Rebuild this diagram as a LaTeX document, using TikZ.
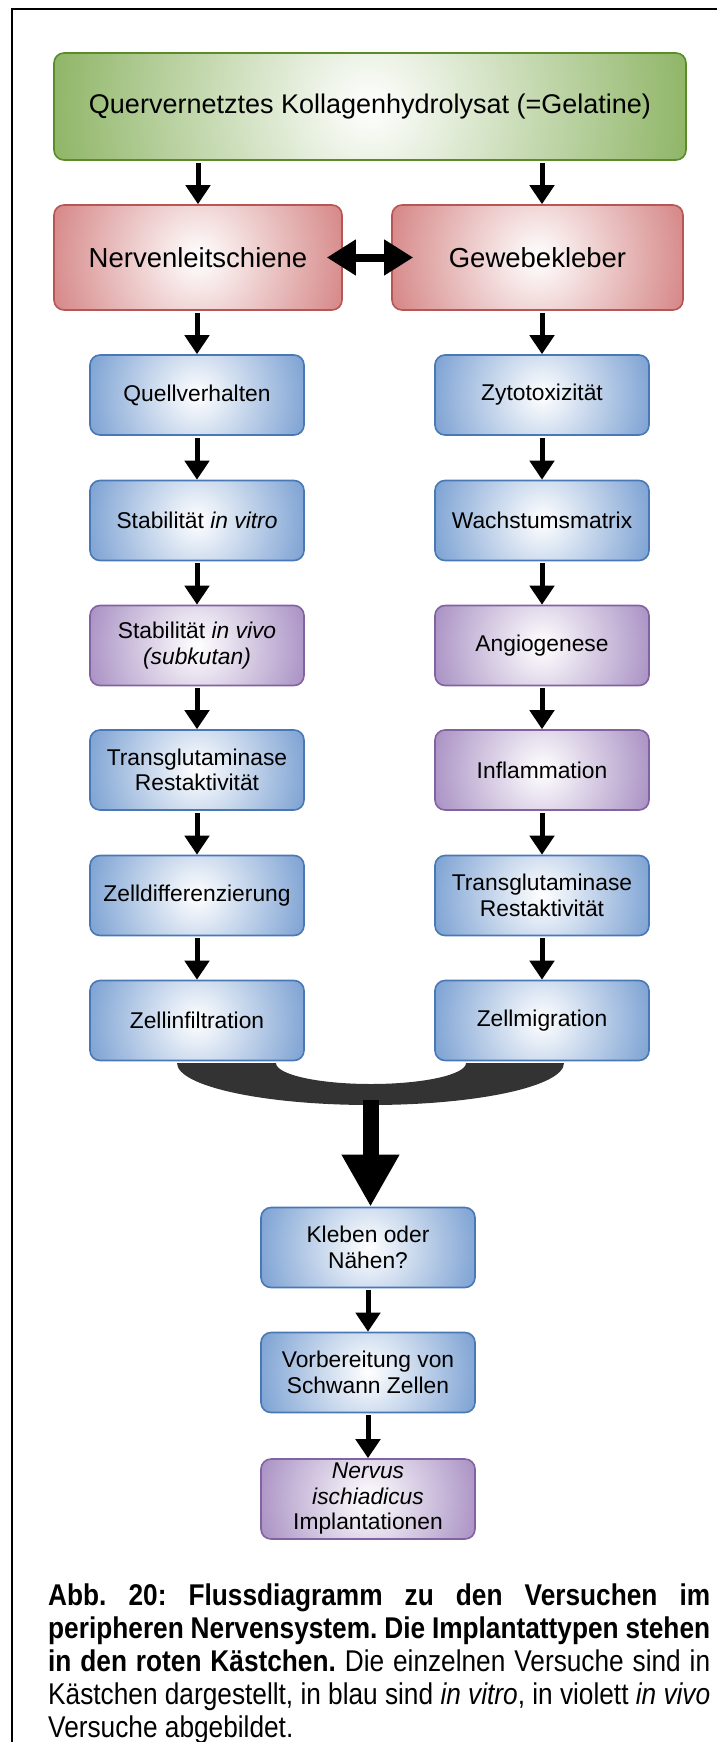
\documentclass[tikz,border=0pt]{standalone}
\usepackage{fontspec}
\setmainfont{Liberation Sans}
\newfontfamily\captionfont[FakeStretch=0.875]{Liberation Sans}
\usetikzlibrary{arrows.meta}

\definecolor{gelgreen}{RGB}{98,152,42}
\definecolor{implred}{RGB}{200,94,94}
\definecolor{vitroblue}{RGB}{80,130,196}
\definecolor{vivoviolet}{RGB}{140,108,176}
\definecolor{mergegray}{RGB}{51,51,51}

\tikzset{
  glow/.style 2 args={draw=#1!92!black, line width=1.6pt, rounded corners=10pt,
    path picture={\shade[inner color=white, outer color=#1]
      (path picture bounding box.center) circle (#2);}},
  vitrobox/.style={glow={vitroblue}{152pt}, minimum width=214pt, minimum height=80pt,
    inner sep=0pt, align=center, font=\fontsize{22.8}{25.5}\selectfont},
  vivobox/.style={vitrobox, glow={vivoviolet}{152pt}},
  implbox/.style={glow={implred}{205pt}, minimum height=105pt, inner sep=0pt,
    font=\fontsize{27.5}{30}\selectfont},
  gelbox/.style={glow={gelgreen}{450pt}, minimum width=632pt, minimum height=107pt,
    inner sep=0pt, font=\fontsize{27}{30}\selectfont},
  pfeil/.style={line width=5pt, -{Triangle[length=19pt,width=24pt]}, shorten <=2pt},
  tauschpfeil/.style={line width=8pt, {Triangle[length=29pt,width=34pt]}-{Triangle[length=29pt,width=34pt]}},
  sammelpfeil/.style={line width=16pt, -{Triangle[length=52pt,width=54pt]}},
  captionline/.style={anchor=base west, inner sep=0pt,
    font=\captionfont\fontsize{30}{33}\selectfont\frenchspacing}
}

\begin{document}
\begin{tikzpicture}[x=1pt,y=-1pt]
\useasboundingbox (0,0) rectangle (717,1742);
% Rahmen
\draw[line width=2.8pt] (717,9) -- (12,9) -- (12,1742);
% Ausgangsmaterial
\node[gelbox] (gelatine) at (370,106.5) {Quervernetztes Kollagenhydrolysat (=Gelatine)};
% Implantattypen
\node[implbox, minimum width=288pt] (leitschiene) at (198,257.5) {Nervenleitschiene};
\node[implbox, minimum width=291pt] (kleber) at (537.5,257.5) {Gewebekleber};
% Versuche Nervenleitschiene
\node[vitrobox] (quell) at (197,395) {Quellverhalten};
\node[vitrobox] (stabvitro) at (197,520.5) {Stabilität \textit{in vitro}};
\node[vivobox] (stabvivo) at (197,645.5) {Stabilität \textit{in vivo}\\\textit{(subkutan)}};
\node[vitrobox] (tgleit) at (197,770) {Transglutaminase\\Restaktivität};
\node[vitrobox] (differenz) at (197,895.5) {Zelldifferenzierung};
\node[vitrobox] (infiltration) at (197,1020.5) {Zellinfiltration};
% Versuche Gewebekleber
\node[vitrobox] (zyto) at (542,395) {Zytotoxizität};
\node[vitrobox] (matrix) at (542,520.5) {Wachstumsmatrix};
\node[vivobox] (angio) at (542,645.5) {Angiogenese};
\node[vivobox] (inflamm) at (542,770) {Inflammation};
\node[vitrobox] (tgkleber) at (542,895.5) {Transglutaminase\\Restaktivität};
\node[vitrobox] (migration) at (542,1020.5) {Zellmigration};
% gemeinsame Versuche
\node[vitrobox] (kleben) at (368,1247.5) {Kleben oder\\Nähen?};
\node[vitrobox] (schwann) at (368,1372.5) {Vorbereitung von\\Schwann Zellen};
\node[vivobox] (ischiadicus) at (368,1499) {\textit{Nervus}\\\textit{ischiadicus}\\Implantationen};
% Pfeile oben
\draw[pfeil] (gelatine.south -| leitschiene) -- (leitschiene.north);
\draw[pfeil] (gelatine.south -| zyto) -- (kleber.north -| zyto);
\draw[tauschpfeil] ([xshift=-16pt]leitschiene.east) -- ([xshift=22pt]kleber.west);
\draw[pfeil] (leitschiene.south -| quell) -- (quell.north);
\draw[pfeil] (kleber.south -| zyto) -- (zyto.north);
% Pfeile links
\draw[pfeil] (quell.south) -- (stabvitro.north);
\draw[pfeil] (stabvitro.south) -- (stabvivo.north);
\draw[pfeil] (stabvivo.south) -- (tgleit.north);
\draw[pfeil] (tgleit.south) -- (differenz.north);
\draw[pfeil] (differenz.south) -- (infiltration.north);
% Pfeile rechts
\draw[pfeil] (zyto.south) -- (matrix.north);
\draw[pfeil] (matrix.south) -- (angio.north);
\draw[pfeil] (angio.south) -- (inflamm.north);
\draw[pfeil] (inflamm.south) -- (tgkleber.north);
\draw[pfeil] (tgkleber.south) -- (migration.north);
% Zusammenfuehrung
\fill[mergegray] (177,1063) -- (276,1063)
  .. controls (276,1074.6) and (318.5,1084) .. (371,1084)
  .. controls (423.5,1084) and (466,1074.6) .. (466,1063)
  -- (564,1063)
  .. controls (564,1086.2) and (477.4,1105) .. (370.5,1105)
  .. controls (263.6,1105) and (177,1086.2) .. (177,1063) -- cycle;
\coordinate (trichter) at (370.5,1100);
\draw[sammelpfeil] (trichter) -- (trichter |- kleben.north);
\draw[pfeil] (kleben.south) -- (schwann.north);
\draw[pfeil] (schwann.south) -- (ischiadicus.north);
% Bildunterschrift
\node[captionline] (cap1) at (48,1605) {\makebox[662pt][s]{\textbf{Abb. 20: Flussdiagramm zu den Versuchen im}}};
\node[captionline] (cap2) at (48,1638) {\makebox[662pt][s]{\textbf{peripheren Nervensystem. Die Implantattypen stehen}}};
\node[captionline] (cap3) at (48,1671) {\makebox[662pt][s]{\textbf{in den roten Kästchen.} Die einzelnen Versuche sind in}};
\node[captionline] (cap4) at (48,1704) {\makebox[662pt][s]{Kästchen dargestellt, in blau sind \textit{in vitro}, in violett \textit{in vivo}}};
\node[captionline] (cap5) at (48,1737) {Versuche abgebildet.};
\end{tikzpicture}
\end{document}
